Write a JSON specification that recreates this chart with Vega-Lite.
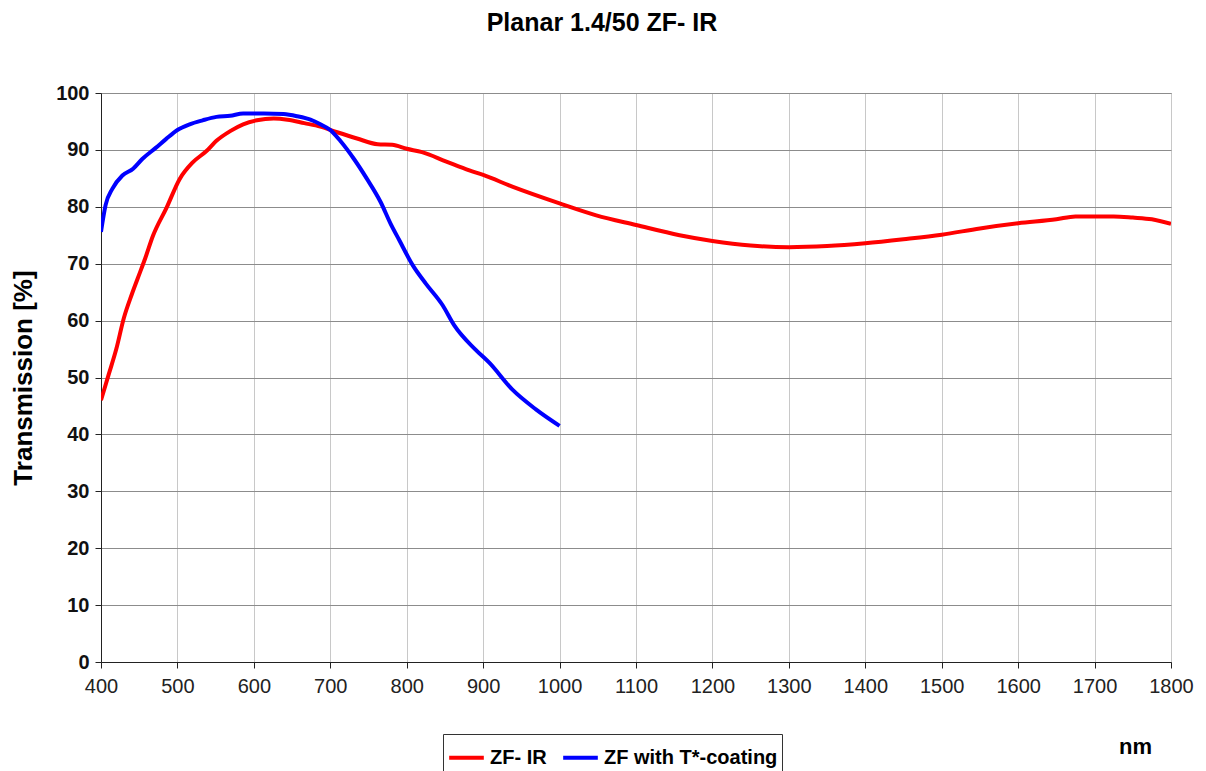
{
  "$schema": "https://vega.github.io/schema/vega-lite/v6.json",
  "width": 1070,
  "height": 569,
  "autosize": {"type": "none"},
  "padding": {"left": 101, "top": 93, "right": 35, "bottom": 109},
  "background": "white",
  "title": {
    "text": "Planar 1.4/50 ZF- IR",
    "font": "Liberation Sans",
    "fontSize": 25,
    "fontWeight": "bold",
    "color": "black",
    "anchor": "middle",
    "dx": -34,
    "offset": 47
  },
  "config": {
    "view": {"stroke": "#888888", "strokeWidth": 1},
    "font": "Liberation Sans"
  },
  "data": {
    "values": [
      {"nm": 400, "T": 46.0, "s": "ZF- IR"},
      {"nm": 410, "T": 50.5, "s": "ZF- IR"},
      {"nm": 420, "T": 55.0, "s": "ZF- IR"},
      {"nm": 430, "T": 60.5, "s": "ZF- IR"},
      {"nm": 440, "T": 64.5, "s": "ZF- IR"},
      {"nm": 448, "T": 67.4, "s": "ZF- IR"},
      {"nm": 458, "T": 71.0, "s": "ZF- IR"},
      {"nm": 468, "T": 74.9, "s": "ZF- IR"},
      {"nm": 486, "T": 79.9, "s": "ZF- IR"},
      {"nm": 503, "T": 84.9, "s": "ZF- IR"},
      {"nm": 520, "T": 87.8, "s": "ZF- IR"},
      {"nm": 538, "T": 89.8, "s": "ZF- IR"},
      {"nm": 551, "T": 91.6, "s": "ZF- IR"},
      {"nm": 569, "T": 93.3, "s": "ZF- IR"},
      {"nm": 586, "T": 94.5, "s": "ZF- IR"},
      {"nm": 604, "T": 95.2, "s": "ZF- IR"},
      {"nm": 626, "T": 95.5, "s": "ZF- IR"},
      {"nm": 644, "T": 95.3, "s": "ZF- IR"},
      {"nm": 666, "T": 94.7, "s": "ZF- IR"},
      {"nm": 687, "T": 94.1, "s": "ZF- IR"},
      {"nm": 709, "T": 93.1, "s": "ZF- IR"},
      {"nm": 735, "T": 92.0, "s": "ZF- IR"},
      {"nm": 762, "T": 91.0, "s": "ZF- IR"},
      {"nm": 781, "T": 90.9, "s": "ZF- IR"},
      {"nm": 800, "T": 90.2, "s": "ZF- IR"},
      {"nm": 820, "T": 89.6, "s": "ZF- IR"},
      {"nm": 851, "T": 88.0, "s": "ZF- IR"},
      {"nm": 882, "T": 86.4, "s": "ZF- IR"},
      {"nm": 900, "T": 85.6, "s": "ZF- IR"},
      {"nm": 939, "T": 83.5, "s": "ZF- IR"},
      {"nm": 1000, "T": 80.6, "s": "ZF- IR"},
      {"nm": 1048, "T": 78.5, "s": "ZF- IR"},
      {"nm": 1100, "T": 76.8, "s": "ZF- IR"},
      {"nm": 1157, "T": 75.0, "s": "ZF- IR"},
      {"nm": 1200, "T": 74.0, "s": "ZF- IR"},
      {"nm": 1250, "T": 73.2, "s": "ZF- IR"},
      {"nm": 1300, "T": 72.9, "s": "ZF- IR"},
      {"nm": 1350, "T": 73.1, "s": "ZF- IR"},
      {"nm": 1400, "T": 73.6, "s": "ZF- IR"},
      {"nm": 1450, "T": 74.3, "s": "ZF- IR"},
      {"nm": 1500, "T": 75.1, "s": "ZF- IR"},
      {"nm": 1550, "T": 76.2, "s": "ZF- IR"},
      {"nm": 1600, "T": 77.1, "s": "ZF- IR"},
      {"nm": 1650, "T": 77.8, "s": "ZF- IR"},
      {"nm": 1675, "T": 78.3, "s": "ZF- IR"},
      {"nm": 1700, "T": 78.3, "s": "ZF- IR"},
      {"nm": 1725, "T": 78.3, "s": "ZF- IR"},
      {"nm": 1750, "T": 78.1, "s": "ZF- IR"},
      {"nm": 1775, "T": 77.8, "s": "ZF- IR"},
      {"nm": 1800, "T": 77.0, "s": "ZF- IR"},
      {"nm": 400, "T": 75.6, "s": "ZF with T*-coating"},
      {"nm": 406, "T": 80.3, "s": "ZF with T*-coating"},
      {"nm": 415, "T": 83.2, "s": "ZF with T*-coating"},
      {"nm": 428, "T": 85.5, "s": "ZF with T*-coating"},
      {"nm": 442, "T": 86.7, "s": "ZF with T*-coating"},
      {"nm": 454, "T": 88.4, "s": "ZF with T*-coating"},
      {"nm": 472, "T": 90.4, "s": "ZF with T*-coating"},
      {"nm": 485, "T": 91.9, "s": "ZF with T*-coating"},
      {"nm": 500, "T": 93.5, "s": "ZF with T*-coating"},
      {"nm": 516, "T": 94.5, "s": "ZF with T*-coating"},
      {"nm": 533, "T": 95.2, "s": "ZF with T*-coating"},
      {"nm": 551, "T": 95.8, "s": "ZF with T*-coating"},
      {"nm": 569, "T": 96.0, "s": "ZF with T*-coating"},
      {"nm": 586, "T": 96.4, "s": "ZF with T*-coating"},
      {"nm": 613, "T": 96.4, "s": "ZF with T*-coating"},
      {"nm": 639, "T": 96.3, "s": "ZF with T*-coating"},
      {"nm": 657, "T": 95.9, "s": "ZF with T*-coating"},
      {"nm": 674, "T": 95.3, "s": "ZF with T*-coating"},
      {"nm": 687, "T": 94.5, "s": "ZF with T*-coating"},
      {"nm": 700, "T": 93.5, "s": "ZF with T*-coating"},
      {"nm": 713, "T": 91.6, "s": "ZF with T*-coating"},
      {"nm": 731, "T": 88.4, "s": "ZF with T*-coating"},
      {"nm": 748, "T": 84.9, "s": "ZF with T*-coating"},
      {"nm": 766, "T": 80.8, "s": "ZF with T*-coating"},
      {"nm": 779, "T": 77.0, "s": "ZF with T*-coating"},
      {"nm": 790, "T": 74.2, "s": "ZF with T*-coating"},
      {"nm": 808, "T": 69.7, "s": "ZF with T*-coating"},
      {"nm": 825, "T": 66.5, "s": "ZF with T*-coating"},
      {"nm": 847, "T": 62.7, "s": "ZF with T*-coating"},
      {"nm": 862, "T": 59.2, "s": "ZF with T*-coating"},
      {"nm": 890, "T": 54.9, "s": "ZF with T*-coating"},
      {"nm": 908, "T": 52.6, "s": "ZF with T*-coating"},
      {"nm": 938, "T": 47.9, "s": "ZF with T*-coating"},
      {"nm": 969, "T": 44.4, "s": "ZF with T*-coating"},
      {"nm": 1000, "T": 41.5, "s": "ZF with T*-coating"}
    ]
  },
  "mark": {"type": "line", "strokeWidth": 4, "interpolate": "monotone", "clip": true},
  "encoding": {
    "x": {
      "field": "nm",
      "type": "quantitative",
      "scale": {"domain": [400, 1800], "nice": false, "zero": false},
      "axis": {
        "values": [400, 500, 600, 700, 800, 900, 1000, 1100, 1200, 1300, 1400, 1500, 1600, 1700, 1800],
        "format": "d",
        "title": "nm",
        "titleFont": "Liberation Sans",
        "titleFontSize": 22,
        "titleFontWeight": "bold",
        "titleColor": "black",
        "titleAnchor": "start",
        "titleAlign": "center",
        "titleBaseline": "middle",
        "titleX": 1034,
        "titleY": 84,
        "labelFont": "Liberation Sans",
        "labelFontSize": 20,
        "labelColor": "#222222",
        "labelPadding": 8,
        "labelFlush": false,
        "labelOverlap": false,
        "domainColor": "#222222",
        "tickColor": "#222222",
        "tickSize": 6,
        "grid": true,
        "gridColor": "#c8c8c8",
        "gridWidth": 1
      }
    },
    "y": {
      "field": "T",
      "type": "quantitative",
      "scale": {"domain": [0, 100], "nice": false},
      "axis": {
        "values": [0, 10, 20, 30, 40, 50, 60, 70, 80, 90, 100],
        "title": "Transmission [%]",
        "titleFont": "Liberation Sans",
        "titleFontSize": 26,
        "titleFontWeight": "bold",
        "titleColor": "black",
        "titlePadding": 19,
        "labelFont": "Liberation Sans",
        "labelFontSize": 20,
        "labelFontWeight": "bold",
        "labelColor": "#111111",
        "labelPadding": 6,
        "labelFlush": false,
        "domainColor": "#222222",
        "tickColor": "#222222",
        "tickSize": 6,
        "grid": true,
        "gridColor": "#8c8c8c",
        "gridWidth": 1
      }
    },
    "color": {
      "field": "s",
      "type": "nominal",
      "sort": ["ZF- IR", "ZF with T*-coating"],
      "scale": {"domain": ["ZF- IR", "ZF with T*-coating"], "range": ["#ff0000", "#0000ff"]},
      "legend": {
        "title": null,
        "orient": "none",
        "direction": "horizontal",
        "legendX": 342,
        "legendY": 641,
        "symbolType": "stroke",
        "symbolStrokeWidth": 4,
        "symbolSize": 1200,
        "labelFont": "Liberation Sans",
        "labelFontSize": 20,
        "labelFontWeight": "bold",
        "labelColor": "black",
        "labelLimit": 400,
        "labelOffset": 4,
        "columnPadding": 8,
        "padding": 4,
        "strokeColor": "#333333",
        "fillColor": "white"
      }
    }
  }
}
